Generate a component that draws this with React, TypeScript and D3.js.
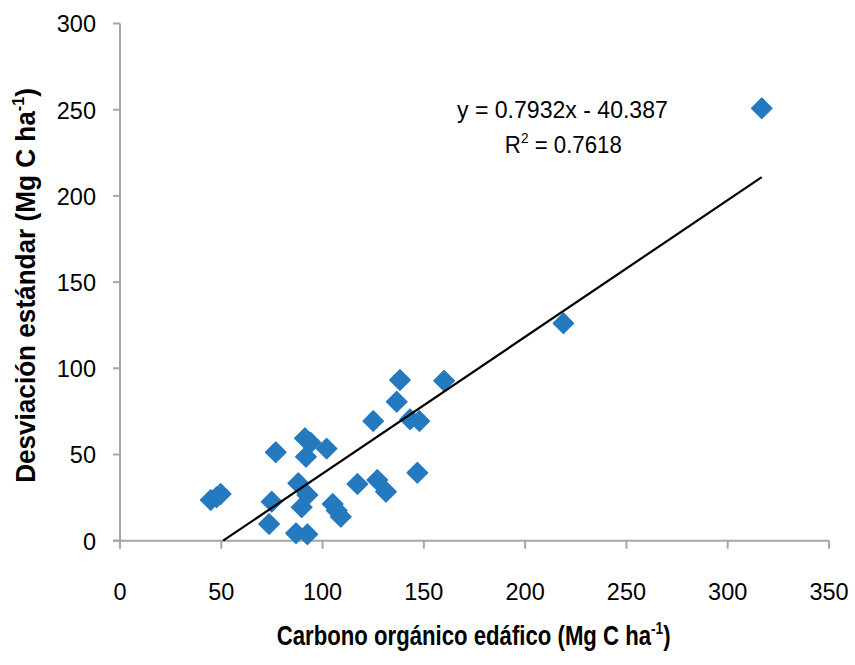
import React, { useLayoutEffect, useRef, useState } from "react";
import * as d3 from "d3";

const xTicks = [0, 50, 100, 150, 200, 250, 300, 350];
const yTicks = [0, 50, 100, 150, 200, 250, 300];

const carbono = [44.8, 47.7, 49.7, 73.6, 74.9, 76.9, 86.9, 88, 89.7, 91.3, 91.8, 92.5, 92.5, 94.1, 102, 105, 107, 109, 117.2, 125, 127, 131.3, 136.6, 138.2, 143.2, 146.8, 147.8, 160, 218.9, 316.8];
const desviacion = [23.6, 25.2, 27.1, 9.7, 22.6, 51.3, 4.3, 33.3, 19.4, 59.4, 48.7, 3.7, 26.5, 56.9, 53.4, 21.3, 17.5, 13.9, 32.9, 69.4, 35.2, 28.4, 80.6, 93.2, 70.4, 39.4, 69.4, 92.8, 126.1, 250.8];

const slope = 0.7932;
const intercept = -40.387;
const eqText = "y = 0.7932x - 40.387";
const r2Value = "0.7618";
const xTitle = "Carbono orgánico  edáfico  (Mg C ha";
const yTitle = "Desviación  estándar  (Mg C ha";

const W = 855;
const H = 665;
const FONT = "'Liberation Sans', Arial, sans-serif";
const AXIS = "#a6a6a6";
const BLUE = "#2479bf";

// Text fitted horizontally to a target width, centered at (cx, baseline), optional rotation
function FitText(props: { cx: number; cy: number; width: number; rotate?: number; children: React.ReactNode; [k: string]: any }) {
  const { cx, cy, width, rotate = 0, children, ...rest } = props;
  const ref = useRef<SVGTextElement>(null);
  const [sx, setSx] = useState(1);
  useLayoutEffect(() => {
    if (ref.current) {
      const w = ref.current.getBBox().width;
      if (w > 0) setSx(width / w);
    }
  }, [width]);
  return (
    <g transform={`translate(${cx},${cy}) rotate(${rotate}) scale(${sx},1)`}>
      <text ref={ref} x={0} y={0} textAnchor="middle" {...rest}>{children}</text>
    </g>
  );
}

export default function App() {
  const x = d3.scaleLinear().domain([0, 350]).range([120, 829]);
  const y = d3.scaleLinear().domain([0, 300]).range([540.7, 23.5]);

  const x0 = -intercept / slope;
  const x1 = d3.max(carbono) as number;
  const trend = d3.line<number>().x((v) => x(v)).y((v) => y(slope * v + intercept))([x0, x1]) || "";

  const r = 10.3;
  const diamond = (cx: number, cy: number) =>
    `M${cx},${cy - r}L${cx + r},${cy}L${cx},${cy + r}L${cx - r},${cy}Z`;

  return (
    <svg width={W} height={H} style={{ position: "absolute", left: 0, top: 0, background: "#fff" }} fontFamily={FONT}>
      <rect width={W} height={H} fill="#fff" />
      <line x1={x(0)} x2={x(0)} y1={y(300)} y2={y(0)} stroke={AXIS} strokeWidth={2} />
      <line x1={x(0) - 7} x2={x(350)} y1={y(0)} y2={y(0)} stroke={AXIS} strokeWidth={2} />
      {yTicks.map((t) => (
        <g key={"y" + t}>
          <line x1={x(0) - 7} x2={x(0)} y1={y(t)} y2={y(t)} stroke={AXIS} strokeWidth={2} />
          <text x={96} y={y(t) + 8.8} textAnchor="end" fontSize={23.5} fill="#000">{t}</text>
        </g>
      ))}
      {xTicks.map((t) => (
        <g key={"x" + t}>
          <line x1={x(t)} x2={x(t)} y1={y(0)} y2={y(0) + 8} stroke={AXIS} strokeWidth={2} />
          <text x={x(t)} y={599.5} textAnchor="middle" fontSize={23.5} fill="#000">{t}</text>
        </g>
      ))}
      {carbono.map((c, i) => (
        <path key={i} d={diamond(x(c), y(desviacion[i]))} fill={BLUE} stroke={BLUE} strokeWidth={1.2} strokeLinejoin="round" />
      ))}
      <path d={trend} stroke="#000" strokeWidth={2.2} fill="none" />
      <FitText cx={562.4} cy={118} width={211} fontSize={24.5}>{eqText}</FitText>
      <FitText cx={563.3} cy={152.7} width={117} fontSize={24.5}>
        R<tspan fontSize={15} dy={-10}>2</tspan><tspan dy={10}>{" = " + r2Value}</tspan>
      </FitText>
      <FitText cx={473.7} cy={645} width={394} fontSize={27.5} fontWeight="bold">
        {xTitle}<tspan fontSize={17} dy={-11}>-1</tspan><tspan dy={11}>)</tspan>
      </FitText>
      <FitText cx={35} cy={285.5} rotate={-90} width={395} fontSize={27.5} fontWeight="bold">
        {yTitle}<tspan fontSize={17} dy={-11}>-1</tspan><tspan dy={11}>)</tspan>
      </FitText>
    </svg>
  );
}
